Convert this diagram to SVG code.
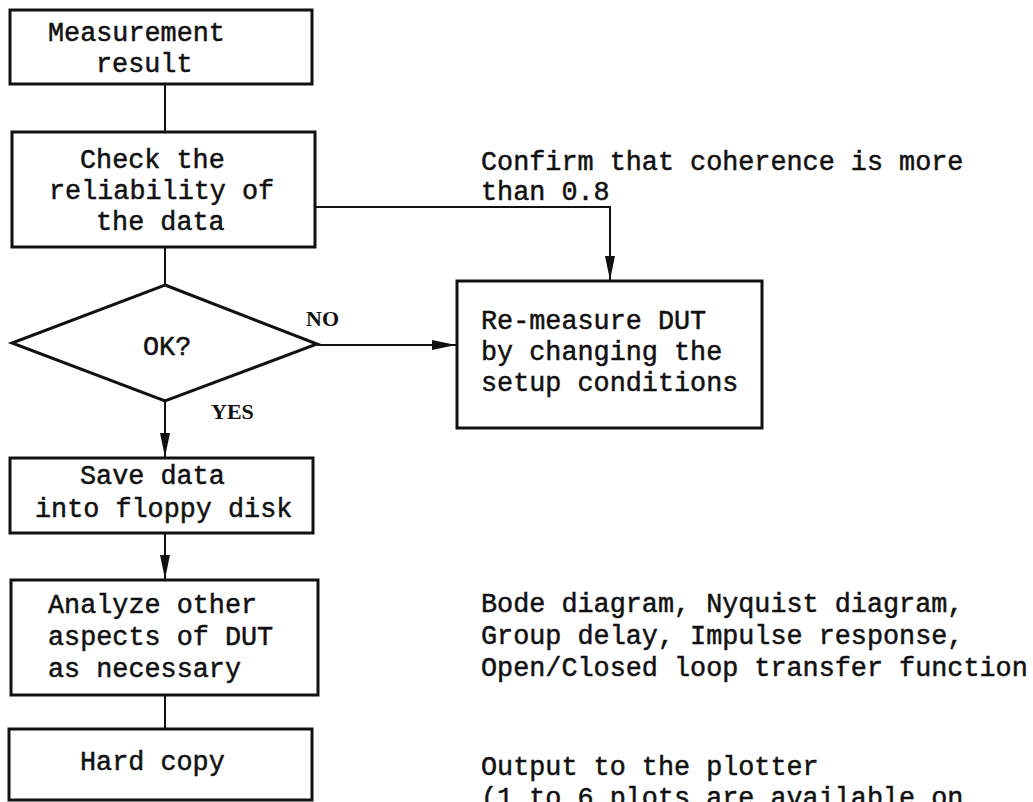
<svg xmlns="http://www.w3.org/2000/svg" width="1033" height="802" viewBox="0 0 1033 802">
  <style>
    .box { fill: #fff; stroke: #111; stroke-width: 3; }
    .line { fill: none; stroke: #111; stroke-width: 2; }
    .t { font-family: "Liberation Mono", "DejaVu Sans Mono", monospace; font-size: 26.8px; fill: #111; stroke: #111; stroke-width: 0.5; }
    .lbl { font-family: "Liberation Serif", "DejaVu Serif", serif; font-size: 22px; font-weight: bold; fill: #111; }
  </style>
  <defs>
    <marker id="arrow" viewBox="0 0 24 10" refX="24" refY="5" markerWidth="24" markerHeight="10" markerUnits="userSpaceOnUse" orient="auto">
      <path d="M0,0 L24,5 L0,10 Z" fill="#111"/>
    </marker>
  </defs>
  <rect width="1033" height="802" fill="#fff"/>

  <!-- connectors -->
  <g id="connectors">
    <line class="line" x1="165" y1="84" x2="165" y2="132"/>
    <line class="line" x1="165" y1="247" x2="165" y2="285"/>
    <polyline class="line" points="315,207 610,207 610,280" marker-end="url(#arrow)"/>
    <line class="line" x1="317" y1="345" x2="456" y2="345" marker-end="url(#arrow)"/>
    <line class="line" x1="165" y1="401" x2="165" y2="457" marker-end="url(#arrow)"/>
    <line class="line" x1="165" y1="533" x2="165" y2="579" marker-end="url(#arrow)"/>
    <line class="line" x1="165" y1="695" x2="165" y2="729"/>
    <text class="lbl" x="306" y="326">NO</text>
    <text class="lbl" x="211" y="419">YES</text>
  </g>

  <g id="measurement-result">
    <rect class="box" x="10" y="10" width="302" height="74"/>
    <text class="t" x="48" y="41">Measurement</text>
    <text class="t" x="96" y="72">result</text>
  </g>

  <g id="check-reliability">
    <rect class="box" x="12" y="132" width="303" height="115"/>
    <text class="t" x="80" y="168">Check the</text>
    <text class="t" x="49" y="199">reliability of</text>
    <text class="t" x="96" y="230">the data</text>
  </g>

  <g id="ok-decision">
    <polygon class="box" points="165,285 317,344 165,401 12,343"/>
    <text class="t" x="143" y="355">OK?</text>
  </g>

  <g id="remeasure">
    <rect class="box" x="457" y="281" width="305" height="147"/>
    <text class="t" x="481" y="329">Re-measure DUT</text>
    <text class="t" x="481" y="360">by changing the</text>
    <text class="t" x="481" y="391">setup conditions</text>
  </g>

  <g id="coherence-note">
    <text class="t" x="481" y="170">Confirm that coherence is more</text>
    <text class="t" x="481" y="200">than 0.8</text>
  </g>

  <g id="save-data">
    <rect class="box" x="10" y="458" width="303" height="75"/>
    <text class="t" x="80" y="484">Save data</text>
    <text class="t" x="35" y="517">into floppy disk</text>
  </g>

  <g id="analyze">
    <rect class="box" x="11" y="580" width="307" height="115"/>
    <text class="t" x="48" y="613">Analyze other</text>
    <text class="t" x="48" y="645">aspects of DUT</text>
    <text class="t" x="48" y="677">as necessary</text>
  </g>

  <g id="analysis-note">
    <text class="t" x="481" y="612">Bode diagram, Nyquist diagram,</text>
    <text class="t" x="481" y="644">Group delay, Impulse response,</text>
    <text class="t" x="481" y="676">Open/Closed loop transfer function</text>
  </g>

  <g id="hard-copy">
    <rect class="box" x="9" y="729" width="303" height="71"/>
    <text class="t" x="80" y="770">Hard copy</text>
  </g>

  <g id="plotter-note">
    <text class="t" x="481" y="775">Output to the plotter</text>
    <text class="t" x="481" y="806">(1 to 6 plots are available on</text>
  </g>
</svg>
